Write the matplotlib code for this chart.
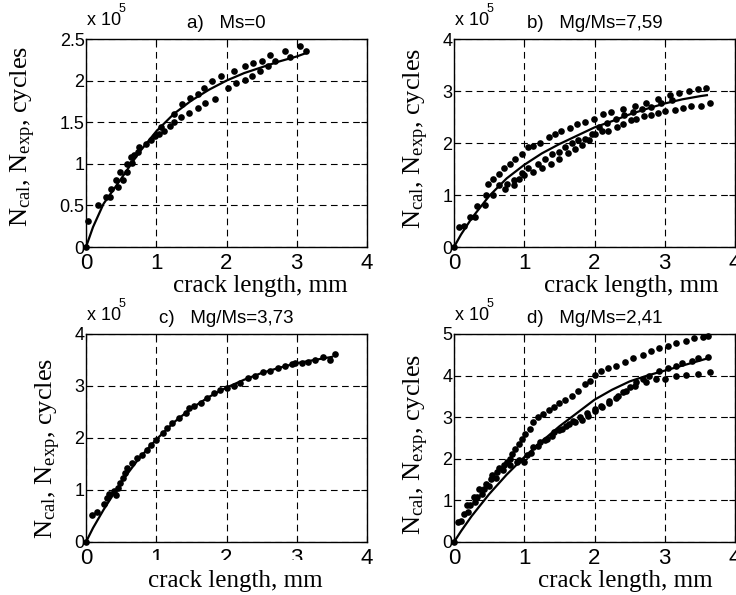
import matplotlib
matplotlib.use("Agg")
import matplotlib.pyplot as plt

plt.rcParams['mathtext.fontset'] = 'custom'
plt.rcParams['mathtext.rm'] = 'Liberation Serif'
plt.rcParams['mathtext.it'] = 'Liberation Serif:italic'
plt.rcParams['font.family'] = ['Liberation Sans', 'DejaVu Sans']

# ---------------- data (x: crack length, mm; y: cycles x 1e5) ----------------
titles = ["a)   Ms=0", "b)   Mg/Ms=7,59", "c)   Mg/Ms=3,73", "d)   Mg/Ms=2,41"]
x_ticks = [0, 1, 2, 3, 4]
x_ticklabels = ["0", "1", "2", "3", "4"]
a_yticks = [0, 0.5, 1, 1.5, 2, 2.5]
a_yticklabels = ["0", "0.5", "1", "1.5", "2", "2.5"]
bc_yticks = [0, 1, 2, 3, 4]
bc_yticklabels = ["0", "1", "2", "3", "4"]
d_yticks = [0, 1, 2, 3, 4, 5]
d_yticklabels = ["0", "1", "2", "3", "4", "5"]

# panel a
a_exp1_x = [0, 0.03, 0.17, 0.34, 0.43, 0.49, 0.58, 0.64, 0.75, 0.92, 1.04, 1.07, 1.25, 1.37, 1.48, 1.59,
            1.68, 1.80, 1.92, 2.11, 2.26, 2.38, 2.50, 2.62, 2.83, 3.05]
a_exp1_y = [0, 0.31, 0.50, 0.60, 0.80, 0.90, 1.00, 1.08, 1.20, 1.29, 1.36, 1.44, 1.60, 1.72, 1.79, 1.84,
            1.91, 2.00, 2.05, 2.11, 2.17, 2.21, 2.23, 2.31, 2.35, 2.41]
a_exp2_x = [0.28, 0.36, 0.45, 0.53, 0.58, 0.66, 0.69, 0.74, 0.85, 0.98, 1.11, 1.19, 1.25, 1.35, 1.47, 1.59,
            1.69, 1.83, 2.02, 2.14, 2.26, 2.36, 2.47, 2.59, 2.69, 2.90, 3.13]
a_exp2_y = [0.60, 0.70, 0.72, 0.81, 0.90, 1.01, 1.10, 1.14, 1.24, 1.33, 1.40, 1.46, 1.50, 1.56, 1.61, 1.67,
            1.73, 1.78, 1.91, 1.97, 2.01, 2.06, 2.11, 2.17, 2.23, 2.28, 2.35]
a_cal_x = [0, 0.1, 0.25, 0.5, 0.75, 1.0, 1.25, 1.5, 1.75, 2.0, 2.25, 2.5, 2.75, 3.0, 3.13]
a_cal_y = [0, 0.24, 0.52, 0.82, 1.13, 1.39, 1.60, 1.76, 1.89, 2.00, 2.09, 2.16, 2.23, 2.29, 2.33]

# panel b
b_exp1_x = [0, 0.07, 0.23, 0.33, 0.45, 0.49, 0.56, 0.64, 0.71, 0.80, 0.87, 0.97, 1.06, 1.13, 1.23, 1.35,
            1.44, 1.53, 1.65, 1.75, 1.87, 1.99, 2.12, 2.24, 2.40, 2.57, 2.74, 2.90, 3.07, 3.20, 3.35, 3.47, 3.59]
b_exp1_y = [0, 0.38, 0.58, 0.78, 1.00, 1.22, 1.31, 1.41, 1.51, 1.60, 1.70, 1.79, 1.92, 1.95, 2.00, 2.12,
            2.18, 2.24, 2.29, 2.36, 2.40, 2.47, 2.55, 2.60, 2.66, 2.71, 2.77, 2.84, 2.92, 2.96, 3.00, 3.03, 3.06]
b_exp2_x = [0.14, 0.30, 0.44, 0.56, 0.64, 0.75, 0.85, 0.97, 1.06, 1.19, 1.30, 1.39, 1.49, 1.58, 1.68, 1.77,
            1.87, 1.96, 2.06, 2.18, 2.30, 2.42, 2.55, 2.68, 2.80, 2.95, 3.10]
b_exp2_y = [0.40, 0.58, 0.80, 1.00, 1.19, 1.22, 1.28, 1.42, 1.51, 1.60, 1.70, 1.79, 1.83, 1.92, 2.00, 2.05,
            2.08, 2.18, 2.30, 2.38, 2.46, 2.54, 2.60, 2.65, 2.70, 2.77, 2.83]
b_exp3_x = [0.73, 0.85, 0.92, 1.00, 1.13, 1.25, 1.38, 1.50, 1.62, 1.72, 1.82, 1.92, 2.00, 2.10, 2.19, 2.32,
            2.41, 2.52, 2.59, 2.71, 2.80, 2.90, 3.00, 3.14, 3.26, 3.38, 3.51, 3.65]
b_exp3_y = [1.12, 1.20, 1.31, 1.38, 1.45, 1.52, 1.60, 1.70, 1.80, 1.88, 1.97, 2.05, 2.17, 2.23, 2.24, 2.31,
            2.36, 2.44, 2.46, 2.51, 2.54, 2.58, 2.62, 2.64, 2.67, 2.71, 2.72, 2.76]
b_cal_x = [0, 0.1, 0.25, 0.5, 0.75, 1.0, 1.25, 1.5, 1.75, 2.0, 2.25, 2.5, 2.75, 3.0, 3.25, 3.5, 3.6]
b_cal_y = [0, 0.24, 0.55, 0.98, 1.32, 1.58, 1.80, 1.98, 2.14, 2.30, 2.42, 2.55, 2.66, 2.76, 2.84, 2.90, 2.92]

# panel c
c_exp_x = [0, 0.09, 0.16, 0.25, 0.30, 0.33, 0.40, 0.42, 0.45, 0.48, 0.52, 0.56, 0.59, 0.66, 0.73, 0.80,
           0.87, 0.92, 0.99, 1.09, 1.16, 1.23, 1.32, 1.42, 1.46, 1.54, 1.63, 1.72, 1.82, 1.91, 2.00, 2.10,
           2.19, 2.31, 2.41, 2.52, 2.62, 2.74, 2.83, 2.93, 2.98, 3.07, 3.16, 3.26, 3.38, 3.47, 3.54]
c_exp_y = [0, 0.52, 0.58, 0.74, 0.84, 0.92, 0.98, 0.90, 1.03, 1.13, 1.23, 1.32, 1.42, 1.52, 1.61, 1.68,
           1.77, 1.87, 1.97, 2.10, 2.19, 2.29, 2.39, 2.48, 2.58, 2.61, 2.68, 2.77, 2.87, 2.92, 2.96, 3.00,
           3.06, 3.16, 3.19, 3.26, 3.29, 3.34, 3.39, 3.42, 3.45, 3.45, 3.47, 3.50, 3.55, 3.50, 3.61]
c_cal_x = [0, 0.1, 0.25, 0.5, 0.75, 1.0, 1.25, 1.5, 1.75, 2.0, 2.25, 2.5, 2.75, 3.0, 3.25, 3.5]
c_cal_y = [0, 0.27, 0.62, 1.15, 1.60, 1.97, 2.30, 2.57, 2.79, 2.97, 3.12, 3.25, 3.35, 3.44, 3.50, 3.56]

# panel d
d_exp1_x = [0, 0.06, 0.18, 0.28, 0.35, 0.45, 0.54, 0.64, 0.75, 0.82, 0.87, 0.92, 0.97, 1.01, 1.08, 1.13,
            1.20, 1.27, 1.35, 1.42, 1.50, 1.58, 1.68, 1.77, 1.87, 1.94, 2.00, 2.09, 2.19, 2.31, 2.43, 2.55,
            2.69, 2.81, 2.92, 3.04, 3.16, 3.30, 3.42, 3.54, 3.61]
d_exp1_y = [0, 0.48, 0.88, 1.08, 1.28, 1.40, 1.60, 1.78, 1.92, 2.12, 2.24, 2.36, 2.48, 2.60, 2.72, 2.88,
            3.00, 3.08, 3.18, 3.24, 3.34, 3.42, 3.50, 3.62, 3.80, 3.88, 4.02, 4.12, 4.18, 4.24, 4.32, 4.42,
            4.50, 4.58, 4.66, 4.72, 4.78, 4.84, 4.90, 4.92, 4.94]
d_exp2_x = [0.14, 0.23, 0.33, 0.42, 0.52, 0.61, 0.71, 0.80, 0.92, 1.04, 1.13, 1.23, 1.33, 1.42, 1.54, 1.63,
            1.72, 1.82, 1.91, 2.00, 2.09, 2.21, 2.33, 2.45, 2.57, 2.69, 2.78, 2.92, 3.04, 3.16, 3.25, 3.39,
            3.48, 3.61]
d_exp2_y = [0.68, 0.88, 1.08, 1.28, 1.52, 1.68, 1.84, 2.00, 1.96, 2.08, 2.28, 2.40, 2.48, 2.64, 2.72, 2.84,
            2.88, 2.94, 3.04, 3.20, 3.28, 3.40, 3.52, 3.64, 3.76, 3.92, 4.00, 4.10, 4.18, 4.24, 4.30, 4.36,
            4.42, 4.44]
d_exp3_x = [0.10, 0.20, 0.30, 0.40, 0.50, 0.60, 0.70, 0.80, 0.90, 0.99, 1.10, 1.20, 1.30, 1.40, 1.50, 1.60,
            1.70, 1.80, 1.90, 2.00, 2.10, 2.20, 2.30, 2.40, 2.50, 2.59, 2.74, 2.88, 3.00, 3.16, 3.30, 3.47, 3.65]
d_exp3_y = [0.50, 0.72, 0.95, 1.15, 1.35, 1.55, 1.72, 1.85, 1.92, 1.92, 2.15, 2.30, 2.45, 2.55, 2.70, 2.80,
            2.90, 3.00, 3.10, 3.15, 3.25, 3.35, 3.45, 3.60, 3.72, 3.84, 3.84, 3.92, 3.92, 3.98, 4.02, 4.04, 4.08]
d_cal_x = [0, 0.1, 0.25, 0.5, 0.75, 1.0, 1.25, 1.5, 1.75, 2.0, 2.25, 2.5, 2.75, 3.0, 3.25, 3.5, 3.62]
d_cal_y = [0, 0.26, 0.62, 1.15, 1.62, 2.04, 2.42, 2.78, 3.10, 3.42, 3.66, 3.86, 4.00, 4.12, 4.24, 4.36, 4.42]

# ---------------- figure ----------------
fig = plt.figure(figsize=(7.36, 5.95), dpi=100)
W, H = 736.0, 595.0

def rect(l, t, w, h):
    return [l / W, 1 - (t + h) / H, w / W, h / H]

panels = [
    dict(rect=rect(86, 39, 281, 208), ylim=2.5, yt=a_yticks, ytl=a_yticklabels, title=titles[0],
         exps=[(a_exp1_x, a_exp1_y), (a_exp2_x, a_exp2_y)], cal=(a_cal_x, a_cal_y),
         ylab=(-0.17, 0.53), xlab_x=0.62, cover=False),
    dict(rect=rect(454, 39, 281, 208), ylim=4, yt=bc_yticks, ytl=bc_yticklabels, title=titles[1],
         exps=[(b_exp1_x, b_exp1_y), (b_exp2_x, b_exp2_y), (b_exp3_x, b_exp3_y)], cal=(b_cal_x, b_cal_y),
         ylab=(-0.082, 0.52), xlab_x=0.63, cover=False),
    dict(rect=rect(86, 334, 281, 208), ylim=4, yt=bc_yticks, ytl=bc_yticklabels, title=titles[2],
         exps=[(c_exp_x, c_exp_y)], cal=(c_cal_x, c_cal_y),
         ylab=(-0.082, 0.45), xlab_x=0.53, cover=True),
    dict(rect=rect(454, 334, 281, 208), ylim=5, yt=d_yticks, ytl=d_yticklabels, title=titles[3],
         exps=[(d_exp1_x, d_exp1_y), (d_exp2_x, d_exp2_y), (d_exp3_x, d_exp3_y)], cal=(d_cal_x, d_cal_y),
         ylab=(-0.082, 0.47), xlab_x=0.61, cover=False),
]

serif = ['Liberation Serif', 'DejaVu Serif']
for p in panels:
    ax = fig.add_axes(p['rect'])
    ax.set_xlim(0, 4)
    ax.set_ylim(0, p['ylim'])
    ax.set_xticks(x_ticks)
    ax.set_xticklabels(x_ticklabels, fontsize=16)
    ax.set_yticks(p['yt'])
    ax.set_yticklabels(p['ytl'], fontsize=13)
    ax.tick_params(direction='in', top=True, right=True, length=4, width=0.8)
    ax.tick_params(axis='x', pad=4)
    ax.tick_params(axis='y', pad=1)
    ax.grid(True, color='black', linestyle=(0, (6, 4)), linewidth=0.8)
    ax.set_axisbelow(True)
    for s in ax.spines.values():
        s.set_linewidth(1.0)
    for ex, ey in p['exps']:
        ax.plot(ex, ey, 'o', color='black', markersize=4.8, markeredgewidth=0, clip_on=False)
    ax.plot(p['cal'][0], p['cal'][1], '-', color='black', linewidth=1.6, clip_on=False)

    ax.set_ylabel(r'N$_{\mathrm{cal}}$, N$_{\mathrm{exp}}$, cycles', family=serif, fontsize=19)
    ax.yaxis.set_label_coords(*p['ylab'])
    if p['cover']:
        ax.set_xlabel('crack length, mm', family=serif, fontsize=18,
                      bbox=dict(facecolor='white', edgecolor='none', pad=7))
    else:
        ax.set_xlabel('crack length, mm', family=serif, fontsize=18)
    ax.xaxis.set_label_coords(p['xlab_x'], -0.135)

    ax.set_title(p['title'], fontsize=13.5, pad=8)
    ax.text(0.005, 1.05, 'x 10', transform=ax.transAxes, fontsize=13, ha='left', va='bottom')
    ax.text(0.115, 1.115, '5', transform=ax.transAxes, fontsize=9, ha='left', va='bottom')

fig.savefig('out.png', dpi=100)
